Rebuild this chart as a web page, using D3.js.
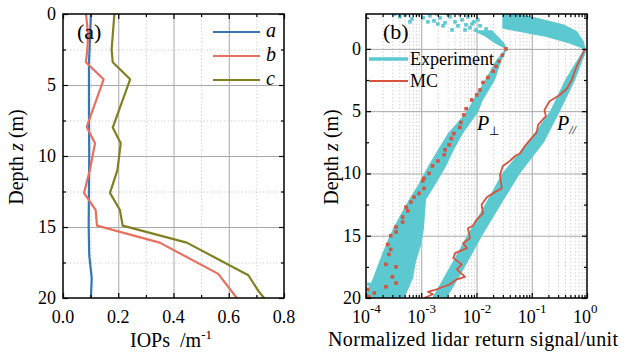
<!DOCTYPE html>
<html>
<head>
<meta charset="utf-8">
<script src="https://cdn.jsdelivr.net/npm/d3@7"></script>
<style>
  body { margin: 0; background: #fff; }
  svg { font-family: "Liberation Serif", "Times New Roman", serif; }
  .grid-major line { stroke: #a8a8a8; stroke-width: 1; }
  .grid-minor line { stroke: #c8c8c8; stroke-width: 0.8; stroke-dasharray: 1.5 2; }
  .grid-major path, .grid-minor path { display: none; }
  .ax path { display: none; }
  .ax line { stroke: #000; stroke-width: 1.2; }
</style>
</head>
<body>
<div id="chart"></div>
<script>
// ---------- panel (a): IOP profiles ----------
const aDepth = [0, 3.5, 7, 10, 12, 15, 17, 18.6, 20];
const aVal = [0.101, 0.094, 0.094, 0.095, 0.094, 0.093, 0.095, 0.104, 0.101];

const bDepth = [0, 1.4, 2.5, 3.4, 4.6, 7.95, 9.1, 11.0, 12.6, 13.8, 14.9, 16.1, 18.3, 20];
const bVal = [0.083, 0.091, 0.088, 0.083, 0.147, 0.086, 0.116, 0.097, 0.076, 0.118, 0.123, 0.35, 0.562, 0.629];

const cDepth = [0, 2.5, 3.4, 4.6, 8.0, 9.1, 11.0, 12.6, 13.8, 14.9, 16.1, 18.4, 19.5, 20];
const cVal = [0.186, 0.176, 0.18, 0.243, 0.18, 0.209, 0.197, 0.17, 0.206, 0.216, 0.448, 0.671, 0.707, 0.728];

const seriesA = [
    { name: 'a', depth: aDepth, val: aVal, color: '#3676b3' },
    { name: 'b', depth: bDepth, val: bVal, color: '#e8705f' },
    { name: 'c', depth: cDepth, val: cVal, color: '#808022' },
];
const xTicksA = [0, 0.2, 0.4, 0.6, 0.8];
const xMinorA = [0.1, 0.3, 0.5, 0.7];
const yTicks = [0, 5, 10, 15, 20];
const yMinorA = [2.5, 7.5, 12.5, 17.5];

// ---------- panel (b): lidar return ----------
// MC, parallel channel (red line)
const mcParDepth = [0, 1.4, 2.5, 3.2, 3.7, 4.2, 4.9, 5.4, 6.1, 6.7, 7.3, 7.8, 8.4, 8.6, 9.0, 9.4, 10.1,
    11.2, 11.5, 11.9, 12.5, 13.2, 13.7, 14.2, 14.4, 15.2, 15.6, 16.0, 16.4, 16.8, 17.3, 17.7, 18.3,
    18.5, 18.9, 19.3, 19.5, 19.7, 20];
const mcParVal = [0.92, 0.65, 0.53, 0.43, 0.32, 0.21, 0.17, 0.18, 0.13, 0.123, 0.093, 0.075, 0.061,
    0.05, 0.04, 0.03, 0.0266, 0.0286, 0.0216, 0.0155, 0.0124, 0.0131, 0.0101, 0.0086, 0.007, 0.0076,
    0.0057, 0.0067, 0.0041, 0.0038, 0.0054, 0.0044, 0.0062, 0.0044, 0.0033, 0.0019, 0.00132, 0.00163,
    0.00112];

// MC, perpendicular channel (red squares)
const mcPerpDepth = [0, 0.5, 1.0, 1.4, 1.8, 2.3, 2.7, 3.3, 3.7, 4.1, 4.8, 5.3, 5.9, 6.3, 6.8, 7.2, 7.7,
    8.1, 8.5, 9.0, 9.4, 10.0, 10.4, 10.6, 11.2, 11.6, 11.9, 12.3, 12.7, 13.0, 13.5, 13.9, 14.3, 14.7,
    15.0, 15.7, 16.1, 16.5, 17.3, 17.5, 18.3, 18.8, 19.1, 19.3, 19.6, 19.9];
const mcPerpVal = [0.0342, 0.0295, 0.0255, 0.0226, 0.0201, 0.0161, 0.0131, 0.0116, 0.0101, 0.0082,
    0.0065, 0.0059, 0.0052, 0.005, 0.0039, 0.0035, 0.0032, 0.0027, 0.0026, 0.002, 0.0016, 0.00138,
    0.00112, 0.00106, 0.00112, 0.00091, 0.00074, 0.00065, 0.00053, 0.00057, 0.00046, 0.00046, 0.00035,
    0.00035, 0.00028, 0.000247, 0.00028, 0.00026, 0.00023, 0.00035, 0.0003, 0.00035, 0.00023,
    0.000107, 0.000141, 0.000113];

// experiment, perpendicular channel: band of dense points
const expPerpDepth = [-1.5, -1.0, -0.5, 0, 1, 2.5, 4.1, 5.1, 6.77, 8.1, 9.45, 10.8, 12.1, 14.4, 15.7, 17.1, 18.4, 19.7, 20];
const expPerpLo = [0.0083, 0.0143, 0.0207, 0.033, 0.022, 0.0143, 0.0087, 0.0065, 0.00305, 0.002, 0.00132,
    0.00091, 0.0006, 0.00031, 0.00023, 0.000172, 0.000134, 0.0001, 0.0001];
const expPerpHi = [0.019, 0.0245, 0.0314, 0.036, 0.028, 0.0216, 0.0131, 0.0106, 0.0057, 0.0039, 0.0028,
    0.00185, 0.00122, 0.00112, 0.001, 0.0008, 0.00071, 0.00053, 0.0005];

// experiment, perpendicular channel: sparse points above the surface and near the bottom
const expPerpDotDepth = [-2.81, -2.57, -2.73, -2.41, -2.81, -2.49, -2.65, -2.25, -2.49, -2.09, -2.57,
    -2.17, -1.85, -2.33, -1.93, -1.69, -2.17, -1.52, -1.85, -1.28, -1.6, -1.12, -1.85, -2.17, -1.52,
    -1.52, -2.0, -2.33, -2.57, -2.81, -2.81, -2.81, -2.17, -2.0,
    18.9, 18.5, 18.1, 19.5, 16.5, 17.5];
const expPerpDotVal = [3.35e-4, 4.1e-4, 5.1e-4, 6.8e-4, 8.7e-4, 1.08e-3, 1.44e-3, 1.7e-3, 2.18e-3,
    2.69e-3, 3.31e-3, 4.08e-3, 4.62e-3, 5.47e-3, 6.46e-3, 7.62e-3, 9.0e-3, 9.8e-3, 0.0116, 0.0131,
    0.0149, 0.0168, 2.48e-3, 1.32e-3, 3.6e-3,
    6.2e-3, 8.3e-3, 0.0106, 7.0e-3, 1.93e-3, 3.05e-3, 5.0e-3, 6.25e-4, 2.0e-3,
    1.13e-4, 1.52e-4, 1.87e-4, 1.23e-4, 2.12e-4, 2.03e-4];

// experiment, parallel channel below the surface
const expParDepth = [0, 2.5, 5, 7.5, 10, 12.5, 15, 17.5, 20];
const expParLo = [0.88, 0.40, 0.214, 0.0855, 0.029, 0.0143, 0.0067, 0.0033, 0.00157];
const expParHi = [1.0, 0.61, 0.324, 0.167, 0.061, 0.0277, 0.0126, 0.0062, 0.0029];

// experiment, parallel channel above the surface (outline of the bundle)
const expParTopDepth = [-2.87, -2.87, -2.46, -1.93, -1.39, -0.59, 0, -0.46, -0.99, -1.66];
const expParTopVal = [0.030, 0.0434, 0.123, 0.372, 0.652, 0.857, 0.92, 0.49, 0.186, 0.030];

const xDecadesB = [-4, -3, -2, -1, 0];
const yMinorB = [-2.5, 2.5, 7.5, 12.5, 17.5];

const cyan = '#5cc9d1';
const mcRed = '#d6533f';

// ---------- drawing ----------
const width = 634;
const height = 360;
const plotTop = 14, plotBottom = 298;

const svg = d3.select('#chart').append('svg')
    .attr('width', width)
    .attr('height', height);

const defs = svg.append('defs');

function frame(left, right, name) {
    defs.append('clipPath').attr('id', 'clip-' + name)
        .append('rect')
        .attr('x', left).attr('y', plotTop)
        .attr('width', right - left).attr('height', plotBottom - plotTop);
}

function gridX(scale, values, cls) {
    svg.append('g').attr('class', cls)
        .attr('transform', `translate(0, ${plotBottom})`)
        .call(d3.axisBottom(scale).tickValues(values).tickFormat('').tickSize(-(plotBottom - plotTop)));
}
function gridY(scale, values, left, right, cls) {
    svg.append('g').attr('class', cls)
        .attr('transform', `translate(${left}, 0)`)
        .call(d3.axisLeft(scale).tickValues(values).tickFormat('').tickSize(-(right - left)));
}

function ticks(xs, ys, xMajor, xMinor, yMajor, yMinor, left, right) {
    const groups = [
        [() => d3.axisBottom(xs), `translate(0, ${plotBottom})`, xMajor, xMinor],
        [() => d3.axisTop(xs), `translate(0, ${plotTop})`, xMajor, xMinor],
        [() => d3.axisLeft(ys), `translate(${left}, 0)`, yMajor, yMinor],
        [() => d3.axisRight(ys), `translate(${right}, 0)`, yMajor, yMinor],
    ];
    for (const [axis, tr, major, minor] of groups) {
        svg.append('g').attr('class', 'ax').attr('transform', tr)
            .call(axis().tickValues(major).tickFormat('').tickSize(-5));
        svg.append('g').attr('class', 'ax').attr('transform', tr)
            .call(axis().tickValues(minor).tickFormat('').tickSize(-3));
    }
    svg.append('rect')
        .attr('x', left).attr('y', plotTop)
        .attr('width', right - left).attr('height', plotBottom - plotTop)
        .attr('fill', 'none').attr('stroke', '#000').attr('stroke-width', 1.5);
}

function yLabels(ys, values, x) {
    svg.append('g').selectAll('text').data(values).join('text')
        .attr('x', x).attr('y', (d) => ys(d) + 6)
        .attr('text-anchor', 'end')
        .attr('font-size', 18)
        .text((d) => d);
}

function depthTitle(x) {
    const t = svg.append('text')
        .attr('transform', `translate(${x}, 157) rotate(-90)`)
        .attr('text-anchor', 'middle')
        .attr('font-size', 20);
    t.append('tspan').text('Depth ');
    t.append('tspan').attr('font-style', 'italic').text('z');
    t.append('tspan').text(' (m)');
}

// ----- panel (a)
const leftA = 63, rightA = 284;
const xA = d3.scaleLinear().domain([0, 0.8]).range([leftA, rightA]);
const yA = d3.scaleLinear().domain([0, 20]).range([plotTop, plotBottom]);
frame(leftA, rightA, 'a');

gridX(xA, xMinorA, 'grid-minor');
gridY(yA, yMinorA, leftA, rightA, 'grid-minor');
gridX(xA, xTicksA.slice(1, -1), 'grid-major');
gridY(yA, yTicks.slice(1, -1), leftA, rightA, 'grid-major');

const lineA = d3.line().x((d) => xA(d[1])).y((d) => yA(d[0]));
const plotA = svg.append('g').attr('clip-path', 'url(#clip-a)');
for (const s of seriesA) {
    plotA.append('path')
        .datum(d3.zip(s.depth, s.val))
        .attr('d', lineA)
        .attr('fill', 'none')
        .attr('stroke', s.color)
        .attr('stroke-width', 2.2)
        .attr('stroke-linejoin', 'round');
}

ticks(xA, yA, xTicksA, xMinorA, yTicks, yMinorA, leftA, rightA);

svg.append('g').selectAll('text').data(xTicksA).join('text')
    .attr('x', (d) => xA(d)).attr('y', 323)
    .attr('text-anchor', 'middle')
    .attr('font-size', 18)
    .text((d) => d3.format('.1f')(d));
yLabels(yA, yTicks, 56);
depthTitle(23);

const xTitleA = svg.append('text').attr('x', 171).attr('y', 347)
    .attr('text-anchor', 'middle').attr('font-size', 20);
xTitleA.append('tspan').text('IOPs');
xTitleA.append('tspan').attr('dx', 10).text('/m');
xTitleA.append('tspan').attr('dy', -8).attr('font-size', 13).text('-1');

svg.append('text').attr('x', 77).attr('y', 39).attr('font-size', 22).text('(a)');

const legA = svg.append('g');
seriesA.forEach((s, i) => {
    const y = [32, 56, 80][i];
    legA.append('line')
        .attr('x1', 213).attr('x2', 260).attr('y1', y).attr('y2', y)
        .attr('stroke', s.color).attr('stroke-width', 2.2);
    legA.append('text')
        .attr('x', 266).attr('y', y + 5)
        .attr('font-size', 20).attr('font-style', 'italic')
        .text(s.name);
});

// ----- panel (b)
const leftB = 366, rightB = 587;
const xB = d3.scaleLog().domain([1e-4, 1]).range([leftB, rightB]);
const yB = d3.scaleLinear().domain([-2.8, 20]).range([plotTop, plotBottom]);
frame(leftB, rightB, 'b');

const decadesB = xDecadesB.map((e) => Math.pow(10, e));
const minorB = [];
for (const e of xDecadesB.slice(0, -1)) {
    for (let m = 2; m <= 9; m++) minorB.push(m * Math.pow(10, e));
}
gridX(xB, minorB, 'grid-minor');
gridX(xB, decadesB.slice(1, -1), 'grid-major');
gridY(yB, [0, 5, 10, 15], leftB, rightB, 'grid-major');

const plotB = svg.append('g').attr('clip-path', 'url(#clip-b)');

const band = d3.area()
    .y((d) => yB(d[0]))
    .x0((d) => xB(d[1]))
    .x1((d) => xB(d[2]));

plotB.append('path')
    .datum(d3.zip(expPerpDepth, expPerpLo, expPerpHi))
    .attr('d', band)
    .attr('fill', cyan);

plotB.append('g').selectAll('rect')
    .data(d3.zip(expPerpDotDepth, expPerpDotVal))
    .join('rect')
    .attr('x', (d) => xB(d[1]) - 1.8)
    .attr('y', (d) => yB(d[0]) - 1.8)
    .attr('width', 3.6).attr('height', 3.6)
    .attr('fill', cyan);

plotB.append('path')
    .datum(d3.zip(expParDepth, expParLo, expParHi))
    .attr('d', band)
    .attr('fill', cyan);

plotB.append('path')
    .datum(d3.zip(expParTopDepth, expParTopVal))
    .attr('d', d3.line().x((d) => xB(d[1])).y((d) => yB(d[0])).curve(d3.curveLinearClosed))
    .attr('fill', cyan)
    .attr('stroke', cyan)
    .attr('stroke-width', 1);

plotB.append('path')
    .datum(d3.zip(mcParDepth, mcParVal))
    .attr('d', d3.line().x((d) => xB(d[1])).y((d) => yB(d[0])))
    .attr('fill', 'none')
    .attr('stroke', mcRed)
    .attr('stroke-width', 1.8)
    .attr('stroke-linejoin', 'round');

plotB.append('g').selectAll('rect')
    .data(d3.zip(mcPerpDepth, mcPerpVal))
    .join('rect')
    .attr('x', (d) => xB(d[1]) - 1.8)
    .attr('y', (d) => yB(d[0]) - 1.8)
    .attr('width', 3.6).attr('height', 3.6)
    .attr('fill', mcRed);

ticks(xB, yB, decadesB, minorB, yTicks, yMinorB, leftB, rightB);

const xLabB = svg.append('g').selectAll('text').data(xDecadesB).join('text')
    .attr('x', (d) => xB(Math.pow(10, d)) - 14).attr('y', 323)
    .attr('font-size', 18);
xLabB.append('tspan').text('10');
xLabB.append('tspan').attr('dy', -10).attr('font-size', 13).text((d) => d === 0 ? '0' : '-' + Math.abs(d));

yLabels(yB, yTicks, 361);
depthTitle(338);

svg.append('text').attr('x', 473).attr('y', 346)
    .attr('text-anchor', 'middle').attr('font-size', 20)
    .attr('textLength', 290)
    .text('Normalized lidar return signal/unit');

svg.append('text').attr('x', 383).attr('y', 39).attr('font-size', 22).text('(b)');

const legB = svg.append('g');
legB.append('line').attr('x1', 369).attr('x2', 408).attr('y1', 59).attr('y2', 59)
    .attr('stroke', cyan).attr('stroke-width', 3.5);
legB.append('text').attr('x', 410).attr('y', 65).attr('font-size', 18).text('Experiment');
legB.append('line').attr('x1', 369).attr('x2', 408).attr('y1', 81).attr('y2', 81)
    .attr('stroke', mcRed).attr('stroke-width', 2);
legB.append('text').attr('x', 410).attr('y', 87).attr('font-size', 18).text('MC');

const pPerp = svg.append('text').attr('x', 477).attr('y', 130).attr('font-size', 20);
pPerp.append('tspan').attr('font-style', 'italic').text('P');
pPerp.append('tspan').attr('dy', 5).attr('font-size', 12).text('⊥');

const pPar = svg.append('text').attr('x', 557).attr('y', 130).attr('font-size', 20);
pPar.append('tspan').attr('font-style', 'italic').text('P');
pPar.append('tspan').attr('dy', 4).attr('font-size', 12).attr('font-style', 'italic').text('//');
</script>
</body>
</html>
